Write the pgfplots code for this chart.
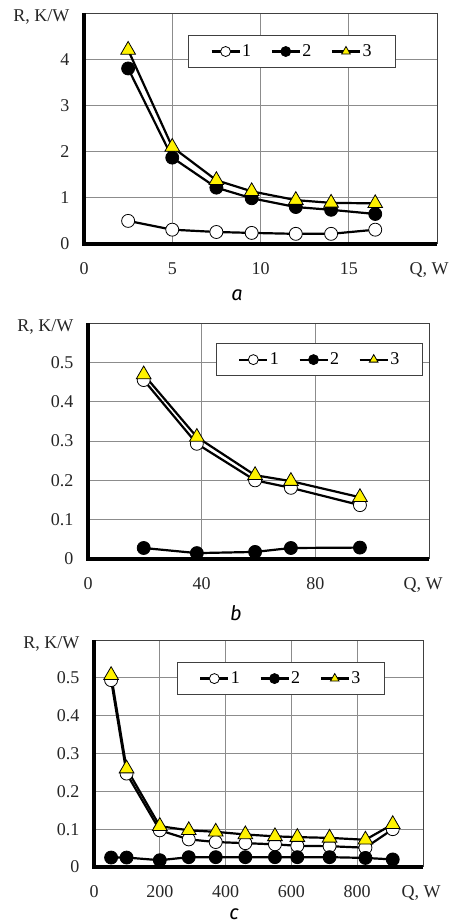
\documentclass[border=0pt]{standalone}
\usepackage{pgfplots}
\pgfplotsset{compat=1.18}
\usepackage{fontspec}
\setmainfont{Liberation Serif}
\newfontfamily\capfont{Fira Sans}

\pgfplotsset{
 myax/.style={
  scale only axis, clip=false,
  axis line style={draw=none},
  grid=major,
  major grid style={gray!90, line width=0.8pt},
  major tick length=0pt,
  tick style={draw=none},
  xmin=0, ymin=0,
  /pgf/number format/assume math mode=true,
  tick label style={font=\fontsize{18}{21}\selectfont, text=black!85},
  x tick label style={anchor=base, yshift=-30pt},
  y tick label style={anchor=east, xshift=-11pt},
  legend columns=3,
  legend style={draw=black!75, line width=0.7pt, fill=white,
    font=\fontsize{18}{21}\selectfont, anchor=north west,
    inner xsep=22pt, inner ysep=8pt,
    nodes={inner sep=1.5pt},
    /tikz/every even column/.append style={column sep=18pt}},
  legend image code/.code={\draw[mark repeat=2, mark phase=2, ##1, mark size=5pt] plot coordinates {(0pt,0pt)(14pt,0pt)(28pt,0pt)};},
 },
 s1/.style={black, line width=2.2pt, mark=*, mark size=6.5pt, mark options={fill=white, draw=black, line width=0.8pt}},
 s2/.style={black, line width=2.2pt, mark=*, mark size=6.5pt, mark options={fill=black, draw=black, line width=0.8pt}},
 s3/.style={black, line width=2.2pt, mark=triangle*, mark size=8.5pt, mark options={fill=yellow, draw=black, line width=0.8pt}},
}
\newcommand{\spines}{%
  \draw[black!75, line width=0.7pt] (rel axis cs:0,1)--(rel axis cs:1,1)--(rel axis cs:1,0);
  \draw[black, line width=3.3pt] (rel axis cs:0,1)--(rel axis cs:0,0)--(rel axis cs:1,0);
}
\newcommand{\labels}[1]{%
  \node[anchor=east, font=\fontsize{18}{21}\selectfont, text=black!85] at (rel axis cs:0,1) [xshift=-11pt, yshift=-4pt] {R, K/W};
  \node[anchor=base, font=\fontsize{18}{21}\selectfont, text=black!85] at (rel axis cs:1,0) [xshift=#1, yshift=-30pt] {Q, W};
}

\begin{document}
\begin{tikzpicture}
\useasboundingbox (0,0) rectangle (449pt,-923pt);

% ---- panel a ----
\begin{axis}[myax, at={(84pt,-244pt)}, anchor=south west,
  width=353pt, height=231pt,
  xmax=20, ymax=5,
  xtick={0,5,10,15}, ytick={0,1,2,3,4},
  legend style={at={(0.295,0.905)}}]
\spines
\addplot[s1] coordinates {(2.5,0.5)(5,0.31)(7.5,0.26)(9.5,0.24)(12,0.22)(14,0.22)(16.5,0.31)};
\addplot[s2] coordinates {(2.5,3.8)(5,1.87)(7.5,1.22)(9.5,0.99)(12,0.8)(14,0.74)(16.5,0.65)};
\addplot[s3] coordinates {(2.5,4.2)(5,2.1)(7.5,1.38)(9.5,1.14)(12,0.95)(14,0.89)(16.5,0.88)};
\legend{1,2,3}
\labels{-8pt}
\end{axis}

% ---- panel b ----
\begin{axis}[myax, at={(88pt,-559pt)}, anchor=south west,
  width=341pt, height=236pt,
  xmax=120, ymax=0.6,
  xtick={0,40,80}, ytick={0,0.1,0.2,0.3,0.4,0.5},
  legend style={at={(0.375,0.915)}}]
\spines
\addplot[s1] coordinates {(19.6,0.455)(38.3,0.293)(58.8,0.2)(71.4,0.181)(95.7,0.137)};
\addplot[s2] coordinates {(19.6,0.028)(38.3,0.015)(58.8,0.018)(71.4,0.028)(95.7,0.029)};
\addplot[s3] coordinates {(19.6,0.469)(38.3,0.31)(58.8,0.213)(71.4,0.198)(95.7,0.157)};
\legend{1,2,3}
\labels{-6pt}
\end{axis}

% ---- panel c ----
\begin{axis}[myax, at={(94pt,-867pt)}, anchor=south west,
  width=329pt, height=227pt,
  xmax=1000, ymax=0.6,
  xtick={0,200,400,600,800}, ytick={0,0.1,0.2,0.3,0.4,0.5},
  legend style={at={(0.252,0.903)}}]
\spines
\addplot[s1] coordinates {(52,0.494)(99,0.247)(200,0.097)(288,0.073)(370,0.066)(460,0.063)(550,0.060)(618,0.056)(716,0.055)(825,0.051)(908,0.100)};
\addplot[s2] coordinates {(52,0.025)(99,0.025)(200,0.018)(288,0.026)(370,0.026)(460,0.026)(550,0.026)(618,0.026)(716,0.026)(825,0.024)(908,0.020)};
\addplot[s3] coordinates {(52,0.507)(99,0.26)(200,0.108)(288,0.097)(370,0.093)(460,0.086)(550,0.081)(618,0.079)(716,0.077)(825,0.072)(908,0.113)};
\legend{1,2,3}
\labels{-2pt}
\end{axis}

\node[inner sep=0pt, font=\capfont\itshape\fontsize{20}{24}\selectfont, anchor=base] at (237pt,-300pt) {a};
\node[inner sep=0pt, font=\capfont\itshape\fontsize{20}{24}\selectfont, anchor=base] at (236pt,-620pt) {b};
\node[inner sep=0pt, font=\capfont\itshape\fontsize{20}{24}\selectfont, anchor=base] at (234pt,-919pt) {c};
\end{tikzpicture}
\end{document}
